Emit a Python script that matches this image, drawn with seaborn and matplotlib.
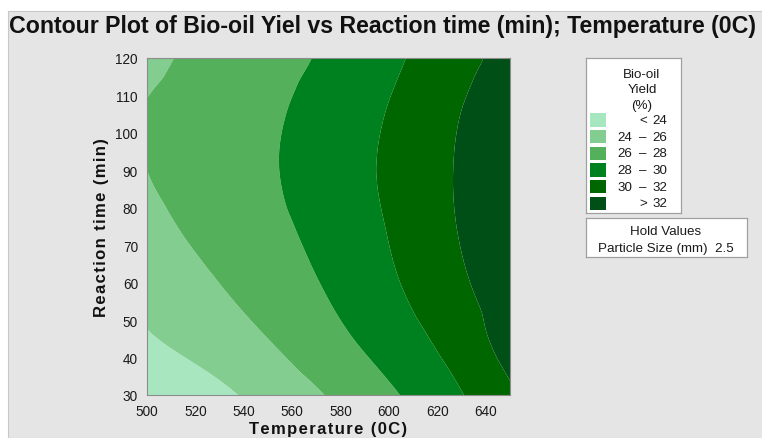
import numpy as np
import matplotlib
matplotlib.use("Agg")
import matplotlib.pyplot as plt
import matplotlib.tri as mtri
from matplotlib.patches import Rectangle
import seaborn as sns

# grid of the response surface
temperature = [500, 525, 550, 575, 600, 625, 650]
reaction_time = [30, 45, 60, 75, 90, 105, 120]
yield_t30 = [22.1, 23.3, 24.7, 26.1, 27.7, 29.5, 31.7]
yield_t45 = [23.8, 24.9, 26.0, 27.4, 28.9, 30.6, 32.8]
yield_t60 = [24.7, 25.8, 26.9, 28.2, 29.7, 31.4, 33.2]
yield_t75 = [25.5, 26.5, 27.5, 28.7, 30.1, 31.8, 33.6]
yield_t90 = [26.0, 26.9, 27.8, 29.0, 30.3, 31.9, 33.6]
yield_t105 = [26.1, 26.9, 27.7, 28.8, 30.1, 31.7, 33.4]
yield_t120 = [25.6, 26.5, 27.3, 28.3, 29.6, 31.1, 32.7]

levels = [0, 24, 26, 28, 30, 32, 100]
level_labels = [("", "<", "24"), ("24", "\u2013", "26"), ("26", "\u2013", "28"),
                ("28", "\u2013", "30"), ("30", "\u2013", "32"), ("", ">", "32")]
greens = ["#a8e6c0", "#82cd8f", "#55b05b", "#008120", "#006700", "#004f16"]

sns.set_style("white")
plt.rcParams['font.family'] = ['Liberation Sans', 'DejaVu Sans']

W, H = 762, 439
fig = plt.figure(figsize=(W / 100, H / 100), dpi=100)
fig.patch.set_facecolor("white")
fig.patches.append(Rectangle((8 / W, 0), 1, 1 - 12 / H, transform=fig.transFigure,
                             facecolor="#e5e5e5", edgecolor="#c8c8c8", lw=0.8, zorder=-10))

fig.text(9 / W, 1 - 32.5 / H, "Contour Plot of Bio-oil Yiel vs Reaction time (min); Temperature (0C)",
         fontsize=16.65, fontweight="bold", ha="left", va="baseline", color="#111111")

ax = fig.add_axes([147 / W, 1 - 396 / H, (510 - 147) / W, (396 - 59) / H])
Tg, tg = np.meshgrid(temperature, reaction_time)
zg = np.array([yield_t30, yield_t45, yield_t60, yield_t75, yield_t90, yield_t105, yield_t120])
tri = mtri.Triangulation(Tg.ravel() / 150.0, tg.ravel() / 90.0)
interp = mtri.CubicTriInterpolator(tri, zg.ravel(), kind="geom")
tri_f, z_f = mtri.UniformTriRefiner(tri).refine_field(zg.ravel(), interp, subdiv=4)
tri_f = mtri.Triangulation(tri_f.x * 150.0, tri_f.y * 90.0, tri_f.triangles)
ax.tricontourf(tri_f, z_f, levels=levels, colors=greens, antialiased=True)

ax.set_xlim(500, 650)
ax.set_ylim(30, 120)
ax.set_xticks(np.arange(500, 650, 20))
ax.set_yticks(np.arange(30, 121, 10))
ax.tick_params(direction="out", length=5, width=0.8, color="#8c8c8c",
               labelsize=9.8, labelcolor="#1a1a1a", pad=1.5)
for s in ax.spines.values():
    s.set_color("#8c8c8c")
    s.set_linewidth(0.8)

sp = "\u200a"
ax.set_xlabel(sp.join("Temperature (0C)"), fontsize=12, fontweight="bold", labelpad=2.5, color="#111111")
ax.set_ylabel(sp.join("Reaction time (min)"), fontsize=12, fontweight="bold", labelpad=5, color="#111111")

# legend box, drawn in pixel units
def pixel_box(x0, y0, x1, y1):
    b = fig.add_axes([x0 / W, 1 - y1 / H, (x1 - x0) / W, (y1 - y0) / H])
    b.set_xlim(0, x1 - x0)
    b.set_ylim(y1 - y0, 0)
    b.set_xticks([])
    b.set_yticks([])
    b.set_facecolor("white")
    for s in b.spines.values():
        s.set_color("#a0a0a0")
        s.set_linewidth(0.9)
    return b

fs = 9.6
lg = pixel_box(586, 59, 681, 214)
for i, line in enumerate(["Bio-oil", "Yield", "(%)"]):
    lg.text(56, 15.5 + 15.5 * i, line, fontsize=fs, ha="center", va="center", color="#1a1a1a")
for i, ((lo, sym, hi), c) in enumerate(zip(level_labels, greens)):
    yc = 62 + 16.65 * i
    lg.add_patch(Rectangle((4, yc - 6.7), 16, 13.4, facecolor=c, edgecolor="none"))
    lg.text(46, yc, lo, fontsize=fs, ha="right", va="center", color="#1a1a1a")
    lg.text(57, yc, sym, fontsize=fs, ha="center", va="center", color="#1a1a1a")
    lg.text(74, yc, hi, fontsize=fs, ha="center", va="center", color="#1a1a1a")

hb = pixel_box(586, 219, 747, 258)
hb.text(80, 13.5, "Hold Values", fontsize=fs, ha="center", va="center", color="#1a1a1a")
hb.text(80, 30, "Particle Size (mm)  2.5", fontsize=fs, ha="center", va="center", color="#1a1a1a")

fig.savefig("out.png", dpi=100)
